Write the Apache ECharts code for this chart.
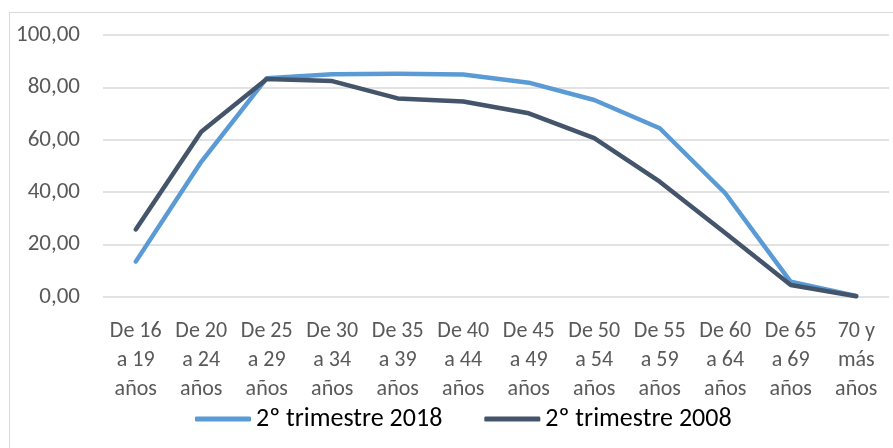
<!DOCTYPE html>
<html>
<head>
<meta charset="utf-8">
<script src="https://cdn.jsdelivr.net/npm/echarts@6/dist/echarts.min.js"></script>
<style>
  html, body { margin: 0; padding: 0; background: #fff; }
  #wrap { position: relative; width: 893px; height: 448px; overflow: hidden; }
  #frame { position: absolute; left: 9px; top: 12px; width: 900px; height: 460px; border: 1px solid #d9d9d9; box-sizing: border-box; }
  #chart { position: absolute; left: 0; top: 0; width: 893px; height: 448px; }
</style>
</head>
<body>
<div id="wrap">
  <div id="frame"></div>
  <div id="chart"></div>
</div>
<script>
  // grupos de edad
  var categories = [
    'De 16\na 19\naños', 'De 20\na 24\naños', 'De 25\na 29\naños', 'De 30\na 34\naños',
    'De 35\na 39\naños', 'De 40\na 44\naños', 'De 45\na 49\naños', 'De 50\na 54\naños',
    'De 55\na 59\naños', 'De 60\na 64\naños', 'De 65\na 69\naños', '70 y\nmás\naños'
  ];
  var serie2018 = [13.5, 51.6, 83.5, 85.0, 85.2, 84.9, 81.8, 75.2, 64.4, 39.6, 5.8, 0.4];
  var serie2008 = [25.8, 63.1, 83.2, 82.4, 75.8, 74.6, 70.1, 60.6, 44.0, 24.4, 4.6, 0.3];
  var yTicks = [0, 20, 40, 60, 80, 100];

  var fontFam = 'Carlito, Lato, "Open Sans", sans-serif';
  var chart = echarts.init(document.getElementById('chart'));

  chart.setOption({
    animation: false,
    grid: { left: 103, right: 4, top: 35, bottom: 151, containLabel: false },
    legend: {
      top: 401,
      left: 190,
      icon: 'roundRect',
      itemWidth: 56,
      itemHeight: 5,
      itemGap: 42,
      textStyle: { fontFamily: fontFam, fontSize: 26, color: '#000' },
      data: ['2º trimestre 2018', '2º trimestre 2008']
    },
    xAxis: {
      type: 'category',
      data: categories,
      boundaryGap: true,
      axisLine: { show: false },
      axisTick: { show: false },
      axisLabel: {
        interval: 0,
        margin: 20,
        fontFamily: fontFam,
        fontSize: 22,
        lineHeight: 29,
        color: '#595959'
      }
    },
    yAxis: {
      type: 'value',
      min: yTicks[0],
      max: yTicks[yTicks.length - 1],
      interval: 20,
      axisLine: { show: false },
      axisTick: { show: false },
      splitLine: { lineStyle: { color: '#d9d9d9', width: 1.5 } },
      axisLabel: {
        margin: 23,
        fontFamily: fontFam,
        fontSize: 23,
        color: '#595959',
        formatter: function (v) { return v.toFixed(2).replace('.', ','); }
      }
    },
    series: [
      {
        name: '2º trimestre 2018',
        type: 'line',
        data: serie2018,
        showSymbol: false,
        symbol: 'none',
        lineStyle: { color: '#5b9bd5', width: 4.5, cap: 'round', join: 'round' },
        itemStyle: { color: '#5b9bd5' }
      },
      {
        name: '2º trimestre 2008',
        type: 'line',
        data: serie2008,
        showSymbol: false,
        symbol: 'none',
        lineStyle: { color: '#44546a', width: 4.5, cap: 'round', join: 'round' },
        itemStyle: { color: '#44546a' }
      }
    ]
  });
</script>
</body>
</html>
